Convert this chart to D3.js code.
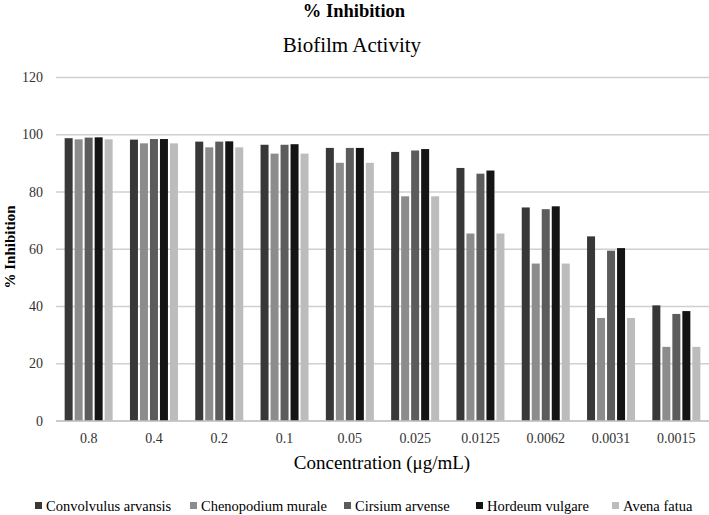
<!DOCTYPE html>
<html>
<head>
<meta charset="utf-8">
<script src="https://cdn.jsdelivr.net/npm/d3@7"></script>
<style>
  html, body { margin: 0; padding: 0; background: #fff; }
  svg { display: block; }
</style>
</head>
<body>
<div id="chart"></div>
<script>
// ---- data ----
const categories = ["0.8", "0.4", "0.2", "0.1", "0.05", "0.025", "0.0125", "0.0062", "0.0031", "0.0015"];
const seriesNames = ["Convolvulus arvansis", "Chenopodium murale", "Cirsium arvense", "Hordeum vulgare", "Avena fatua"];
const convolvulus = [98.8, 98.3, 97.6, 96.5, 95.4, 94.0, 88.4, 74.6, 64.5, 40.4];
const chenopodium = [98.4, 97.0, 95.6, 93.4, 90.2, 78.5, 65.5, 55.0, 36.0, 25.9];
const cirsium     = [99.0, 98.5, 97.6, 96.5, 95.4, 94.5, 86.4, 74.0, 59.5, 37.4];
const hordeum     = [99.1, 98.5, 97.7, 96.7, 95.4, 95.0, 87.5, 75.0, 60.4, 38.4];
const avena       = [98.4, 97.0, 95.6, 93.4, 90.2, 78.5, 65.5, 55.0, 36.0, 25.9];
const yTicks = [0, 20, 40, 60, 80, 100, 120];

const seriesValues = [convolvulus, chenopodium, cirsium, hordeum, avena];
const colors = ["#383838", "#8c8c8c", "#5c5c5c", "#141414", "#bcbcbc"];

const FONT = "'Liberation Serif', 'Times New Roman', Times, 'DejaVu Serif', serif";
const W = 709, H = 515;
const svg = d3.select("#chart").append("svg").attr("width", W).attr("height", H)
  .attr("font-family", FONT).style("font-family", FONT);

const x0 = d3.scaleBand().domain(categories).range([56, 709]).paddingInner(0).paddingOuter(0);
const x1 = d3.scaleBand().domain(seriesNames).range([0, 48]).paddingInner(0.2).paddingOuter(0);
const y = d3.scaleLinear().domain([0, 120]).range([421, 77.5]);
const groupOffset = (x0.bandwidth() - 48) / 2;

function txt(sel) { return sel.style("font-family", FONT); }

// gridlines
svg.append("g").selectAll("line").data(yTicks).join("line")
  .attr("x1", 56).attr("x2", 709)
  .attr("y1", d => y(d)).attr("y2", d => y(d))
  .attr("stroke", "#d0d0d0").attr("stroke-width", 1.5);

// y tick labels
txt(svg.append("g").selectAll("text").data(yTicks).join("text"))
  .attr("x", 43).attr("y", d => y(d))
  .attr("text-anchor", "end").attr("dominant-baseline", "central")
  .style("font-size", "14px").attr("fill", "#333")
  .text(d => d);

// bars
const groups = svg.append("g").selectAll("g").data(categories).join("g")
  .attr("transform", c => `translate(${x0(c) + groupOffset},0)`);
groups.selectAll("rect").data((c, i) => seriesNames.map((s, j) => ({ s, j, v: seriesValues[j][i] })))
  .join("rect")
  .attr("x", d => x1(d.s))
  .attr("width", x1.bandwidth())
  .attr("y", d => y(d.v))
  .attr("height", d => y(0) - y(d.v))
  .attr("fill", d => colors[d.j]);

// x axis line
svg.append("line").attr("x1", 56).attr("x2", 709).attr("y1", y(0)).attr("y2", y(0))
  .attr("stroke", "#c4c4c4").attr("stroke-width", 1.5);

// x tick labels
txt(svg.append("g").selectAll("text").data(categories).join("text"))
  .attr("x", c => x0(c) + x0.bandwidth() / 2).attr("y", 443)
  .attr("text-anchor", "middle")
  .style("font-size", "14px").attr("fill", "#333")
  .text(c => c);

// titles
txt(svg.append("text")).attr("x", 354).attr("y", 17).attr("text-anchor", "middle")
  .style("font-size", "18.5px").style("font-weight", "bold").text("% Inhibition");
txt(svg.append("text")).attr("x", 352).attr("y", 52).attr("text-anchor", "middle")
  .style("font-size", "21px").text("Biofilm Activity");
txt(svg.append("text")).attr("x", 382).attr("y", 469).attr("text-anchor", "middle")
  .style("font-size", "19px").text("Concentration (μg/mL)");
txt(svg.append("text")).attr("transform", "translate(10,247) rotate(-90)")
  .attr("text-anchor", "middle").attr("dominant-baseline", "central")
  .style("font-size", "15px").style("font-weight", "bold").text("% Inhibition");

// legend
const legendX = [35, 190, 344, 476, 612];
const leg = svg.append("g").selectAll("g").data(seriesNames).join("g")
  .attr("transform", (d, i) => `translate(${legendX[i]},0)`);
leg.append("rect").attr("x", 0).attr("y", 502).attr("width", 7).attr("height", 7)
  .attr("fill", (d, i) => colors[i]);
txt(leg.append("text")).attr("x", 11).attr("y", 511)
  .style("font-size", "14.5px").text(d => d);
</script>
</body>
</html>
